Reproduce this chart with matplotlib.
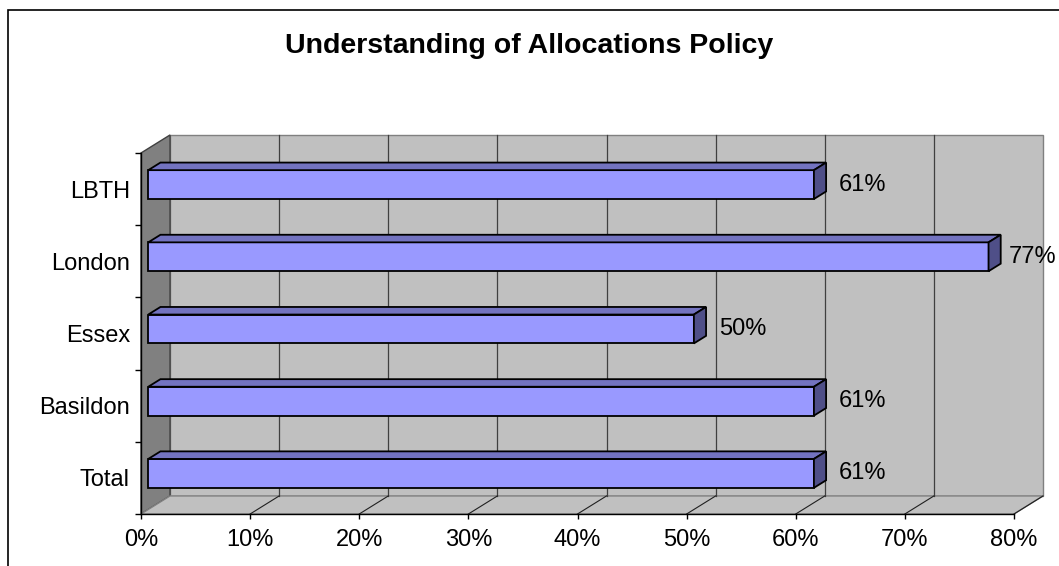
import matplotlib
matplotlib.use("Agg")
import matplotlib.pyplot as plt
from matplotlib.patches import Polygon, Rectangle

# Datos del gráfico (de abajo hacia arriba)
categories = ["Total", "Basildon", "Essex", "London", "LBTH"]
values = [61, 61, 50, 77, 61]
xticks = [0, 10, 20, 30, 40, 50, 60, 70, 80]
title = "Understanding of Allocations Policy"

plt.rcParams['font.family'] = ['Liberation Sans', 'DejaVu Sans']

W, H = 1059, 566
fig = plt.figure(figsize=(W / 100, H / 100), dpi=100)

# Marco exterior del gráfico
fig.patches.append(Rectangle((8 / W, -0.1), 1.2, 1.1 - 10 / H, transform=fig.transFigure,
                             fill=False, edgecolor='black', linewidth=1.2))

# Ejes = plano frontal del gráfico 3D
ax = fig.add_axes([141 / W, 1 - 514 / H, 873 / W, 361 / H])
ax.set_facecolor('none')
ax.set_xlim(0, 80)
ax.set_ylim(0, len(categories))

# Profundidad del efecto 3D en unidades de datos
DX, DY = 2.66, 0.25
Z0, Z1 = 0.25, 0.67   # posición de la barra en la profundidad
BH = 0.2              # media altura de la barra

wall_kw = dict(clip_on=False, linewidth=1.0)
# Pared trasera
ax.add_patch(Polygon([(DX, DY), (80 + DX, DY), (80 + DX, 5 + DY), (DX, 5 + DY)],
                     facecolor='#c0c0c0', edgecolor='#808080', zorder=0, **wall_kw))
# Pared izquierda
ax.add_patch(Polygon([(0, 0), (DX, DY), (DX, 5 + DY), (0, 5)],
                     facecolor='#808080', edgecolor='#404040', zorder=0.5, **wall_kw))
# Suelo
ax.add_patch(Polygon([(0, 0), (80, 0), (80 + DX, DY), (DX, DY)],
                     facecolor='#c0c0c0', edgecolor='#808080', zorder=0.5, **wall_kw))

# Líneas de cuadrícula en la pared trasera y en el suelo
for t in xticks[1:]:
    if t < 80:
        ax.plot([t + DX, t + DX], [DY, 5 + DY], color='#404040', lw=0.9, zorder=0.6, clip_on=False)
    ax.plot([t, t + DX], [0, DY], color='#202020', lw=0.8, zorder=0.6, clip_on=False)

# Barras 3D
for i, (cat, v) in enumerate(zip(categories, values)):
    ox, oy = Z0 * DX, Z0 * DY
    dx, dy = (Z1 - Z0) * DX, (Z1 - Z0) * DY
    yc = i + 0.5
    xs, xe = ox, v + ox
    yb, yt = yc - BH + oy, yc + BH + oy
    bar_kw = dict(edgecolor='black', linewidth=1.3, zorder=3, clip_on=False, joinstyle='miter')
    ax.add_patch(Polygon([(xs, yb), (xe, yb), (xe, yt), (xs, yt)], facecolor='#9999ff', **bar_kw))
    ax.add_patch(Polygon([(xs, yt), (xe, yt), (xe + dx, yt + dy), (xs + dx, yt + dy)],
                         facecolor='#7373c0', **bar_kw))
    ax.add_patch(Polygon([(xe, yb), (xe, yt), (xe + dx, yt + dy), (xe + dx, yb + dy)],
                         facecolor='#4f4f88', **bar_kw))
    lx = min(v + Z1 * DX + 1.2, 79.5)
    ax.text(lx, yc + oy, f"{v}%", ha='left', va='center', fontsize=17, zorder=4, clip_on=False)

# Ejes y marcas
for s in ['top', 'right']:
    ax.spines[s].set_visible(False)
for s in ['left', 'bottom']:
    ax.spines[s].set_color('black')
    ax.spines[s].set_linewidth(1.0)
    ax.spines[s].set_zorder(1)

ax.set_xticks(xticks)
ax.set_xticklabels([f"{t}%" for t in xticks], fontsize=17)
ax.set_yticks(range(len(categories) + 1))
ax.set_yticklabels([])
ax.set_yticks([i + 0.5 for i in range(len(categories))], minor=True)
ax.set_yticklabels(categories, minor=True, fontsize=17)
ax.tick_params(axis='x', length=3.6, width=1, direction='out', pad=7)
ax.tick_params(axis='y', which='major', length=4.3, width=1, direction='out')
ax.tick_params(axis='y', which='minor', length=0, pad=8)

fig.text(0.5, 1 - 46 / H, title, ha='center', va='center', fontsize=20.5, fontweight='bold')

fig.savefig("out.png", dpi=100)
